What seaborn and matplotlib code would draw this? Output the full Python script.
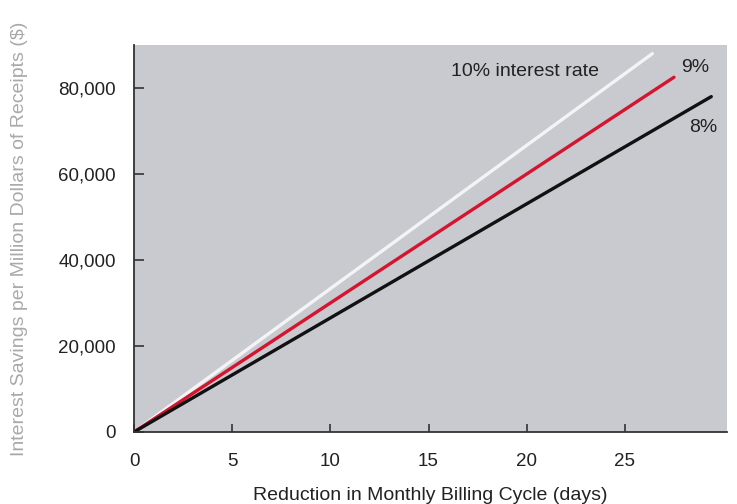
import matplotlib
matplotlib.use("Agg")
import matplotlib.pyplot as plt
import seaborn as sns
import pandas as pd

# Data (straight lines from the origin)
rates = ["10%", "9%", "8%"]
days_10 = [0, 26.4]
savings_10 = [0, 88000]
days_9 = [0, 27.5]
savings_9 = [0, 82500]
days_8 = [0, 29.4]
savings_8 = [0, 78000]
x_ticks = [0, 5, 10, 15, 20, 25]
y_ticks = [0, 20000, 40000, 60000, 80000]
y_tick_labels = ["0", "20,000", "40,000", "60,000", "80,000"]

df = pd.concat([
    pd.DataFrame({"days": days_10, "savings": savings_10, "rate": rates[0]}),
    pd.DataFrame({"days": days_9, "savings": savings_9, "rate": rates[1]}),
    pd.DataFrame({"days": days_8, "savings": savings_8, "rate": rates[2]}),
])

sns.set_theme(style="white")
plt.rcParams["font.family"] = ["Liberation Sans", "DejaVu Sans"]

fig = plt.figure(figsize=(7.37, 5.04), dpi=100)
ax = fig.add_axes([134 / 737, 72 / 504, 593 / 737, 387 / 504])
ax.set_facecolor("#c9cacf")

palette = {"10%": "#f4f4f6", "9%": "#d5152f", "8%": "#111111"}
sns.lineplot(data=df, x="days", y="savings", hue="rate", palette=palette,
             linewidth=2.4, legend=False, ax=ax, estimator=None, sort=False)

ax.set_xlim(0, 30.2)
ax.set_ylim(0, 90000)
ax.set_xticks(x_ticks)
ax.set_xticklabels([str(t) for t in x_ticks])
ax.set_yticks(y_ticks)
ax.set_yticklabels(y_tick_labels)

for side in ["top", "right"]:
    ax.spines[side].set_visible(False)
for side in ["left", "bottom"]:
    ax.spines[side].set_color("#333333")
    ax.spines[side].set_linewidth(1.3)

ax.tick_params(axis="x", direction="in", length=6, width=1.2, color="#333333",
               labelsize=13.5, labelcolor="#222222", pad=15)
ax.tick_params(axis="y", direction="in", length=7, width=1.2, color="#333333",
               labelsize=13.5, labelcolor="#222222", pad=13)
ax.tick_params(bottom=True, left=True)

ax.set_xlabel("Reduction in Monthly Billing Cycle (days)", fontsize=14,
              color="#222222", labelpad=12)
ax.set_ylabel("Interest Savings per Million Dollars of Receipts ($)", fontsize=14,
              color="#a9a9a9", labelpad=22)

ax.text(19.9, 83800, "10% interest rate", fontsize=14, color="#222222",
        ha="center", va="center")
ax.text(28.6, 84700, "9%", fontsize=14, color="#222222", ha="center", va="center")
ax.text(29.0, 70800, "8%", fontsize=14, color="#222222", ha="center", va="center")

fig.savefig("out.png", dpi=100)
